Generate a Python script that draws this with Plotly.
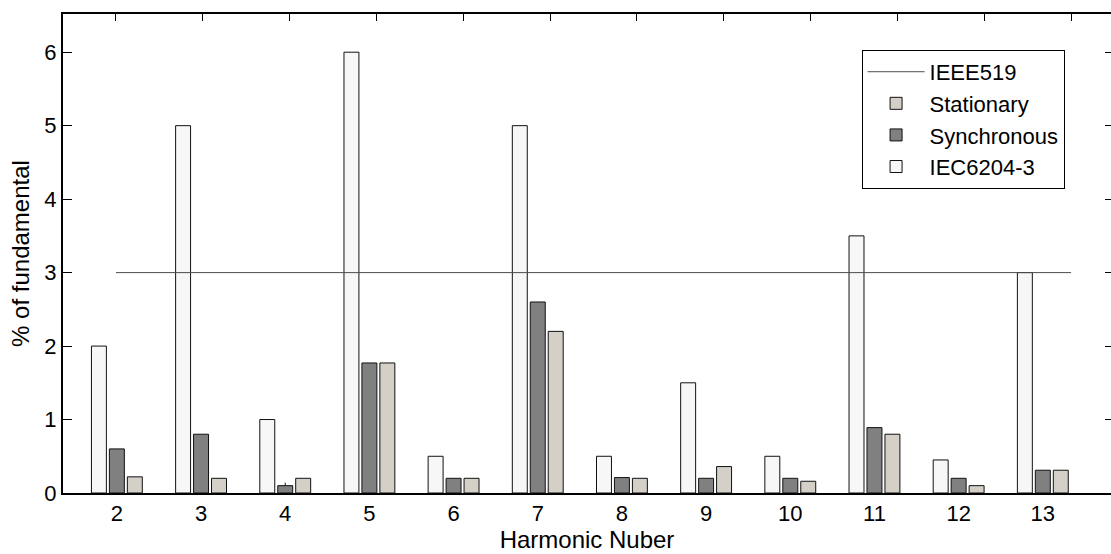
import plotly.graph_objects as go

# Harmonic orders shown on the axis
harmonics = [2, 3, 4, 5, 6, 7, 8, 9, 10, 11, 12, 13]

# Harmonic content, % of fundamental
iec6204_3 = [2.0, 5.0, 1.0, 6.0, 0.5, 5.0, 0.5, 1.5, 0.5, 3.5, 0.45, 3.0]
synchronous = [0.6, 0.8, 0.1, 1.77, 0.2, 2.6, 0.21, 0.2, 0.2, 0.89, 0.2, 0.31]
stationary = [0.22, 0.2, 0.2, 1.77, 0.2, 2.2, 0.2, 0.36, 0.16, 0.8, 0.1, 0.31]
synchronous_err = [0, 0, 0.04, 0, 0, 0, 0, 0, 0, 0, 0, 0]

# IEEE 519 individual-harmonic limit
ieee519_limit = [3, 3, 3, 3, 3, 3, 3, 3, 3, 3, 3, 3]

y_ticks = [0, 1, 2, 3, 4, 5, 6]

FONT = "Liberation Sans, Arial, sans-serif"
BAR_LINE = dict(color="#111111", width=1)

fig = go.Figure()

fig.add_trace(go.Bar(
    x=harmonics, y=iec6204_3, name="IEC6204-3",
    marker=dict(color="#f7f7f7", line=BAR_LINE), legendrank=4,
))
fig.add_trace(go.Bar(
    x=harmonics, y=synchronous, name="Synchronous",
    marker=dict(color="#808080", line=BAR_LINE), legendrank=3,
    error_y=dict(type="data", array=synchronous_err, arrayminus=[0] * len(harmonics),
                 symmetric=False, color="#111111", thickness=1, width=0),
))
fig.add_trace(go.Bar(
    x=harmonics, y=stationary, name="Stationary",
    marker=dict(color="#d4d0c8", line=BAR_LINE), legendrank=2,
))
# Limit line lives on the secondary (top / right) axes so they get drawn too
fig.add_trace(go.Scatter(
    x=harmonics, y=ieee519_limit, name="IEEE519", mode="lines",
    line=dict(color="#4d4d4d", width=1), xaxis="x2", yaxis="y2", legendrank=1,
))

fig.update_layout(
    width=1111, height=554,
    margin=dict(l=63, r=0, t=14, b=61),
    paper_bgcolor="white", plot_bgcolor="white",
    font=dict(family=FONT, size=22, color="black"),
    barmode="group", bargap=0.36, bargroupgap=0.167,
    showlegend=True,
    legend=dict(
        x=0.762, y=0.925, xanchor="left", yanchor="top",
        bgcolor="white", bordercolor="black", borderwidth=1,
        font=dict(family=FONT, size=22), itemwidth=57,
        tracegroupgap=0,
    ),
    xaxis=dict(
        range=[1.36, 13.81], tickvals=harmonics, ticks="",
        showline=True, linecolor="black", linewidth=2,
        showgrid=False, zeroline=False,
        tickfont=dict(size=22),
        title=dict(text="Harmonic Nuber", font=dict(size=24), standoff=2),
    ),
    xaxis2=dict(
        overlaying="x", side="top", anchor="y2",
        range=[1.39, 13.46], tickvals=harmonics, showticklabels=False,
        ticks="inside", ticklen=7, tickcolor="black",
        showline=True, linecolor="black", linewidth=1.5,
        showgrid=False, zeroline=False,
    ),
    yaxis=dict(
        range=[0, 6.52], tickvals=y_ticks,
        ticks="inside", ticklen=9, tickcolor="black",
        showline=True, linecolor="black", linewidth=2,
        showgrid=False, zeroline=False,
        tickfont=dict(size=22),
        title=dict(text="% of fundamental", font=dict(size=24), standoff=8),
    ),
    yaxis2=dict(
        overlaying="y", side="right", anchor="x2",
        range=[0, 6.52], tickvals=y_ticks, showticklabels=False,
        ticks="inside", ticklen=6, tickcolor="black",
        showline=False, showgrid=False, zeroline=False,
    ),
)

fig.write_html("out.html")
